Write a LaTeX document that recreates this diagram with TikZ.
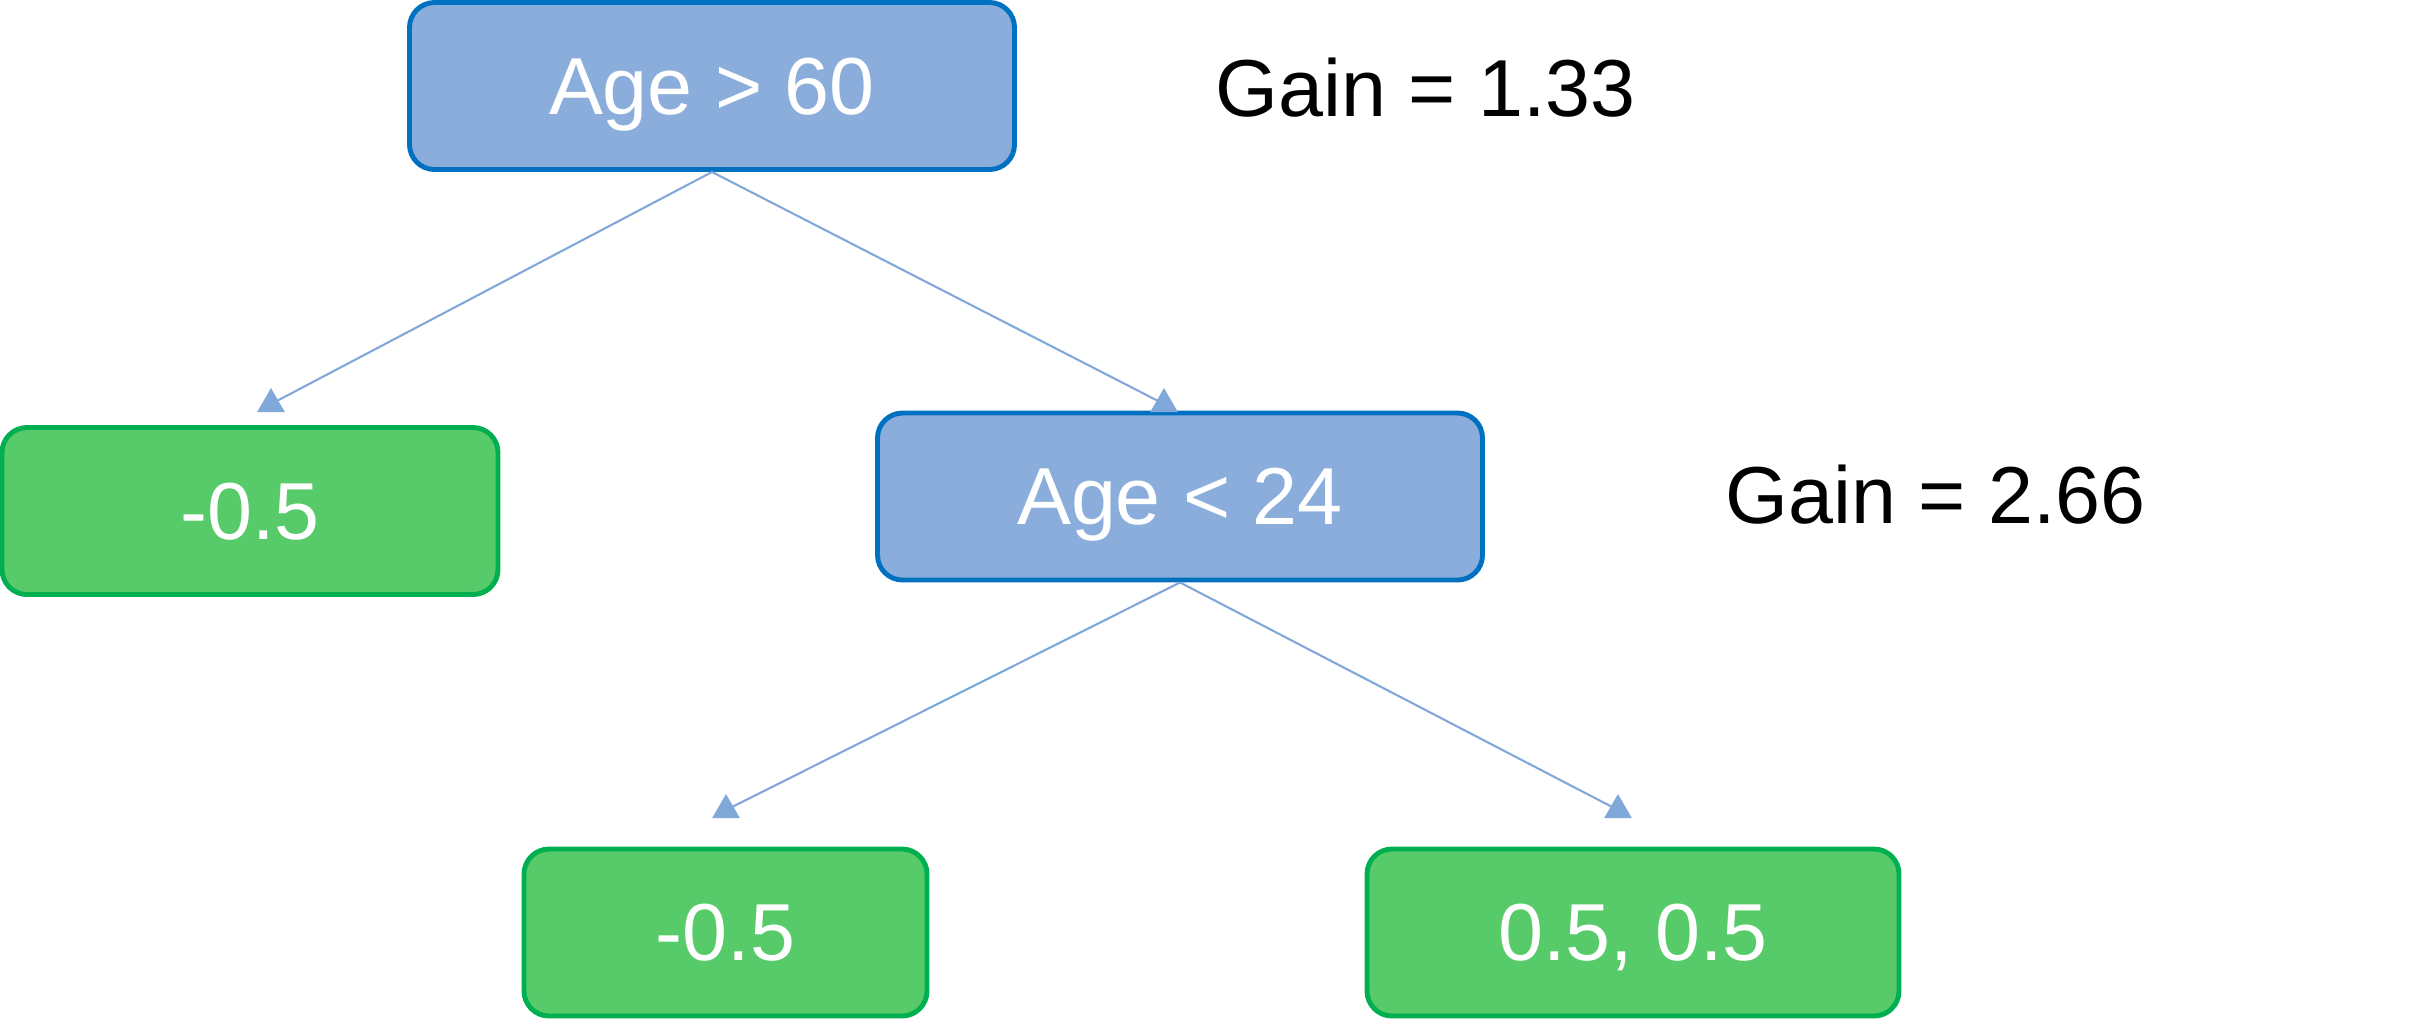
\documentclass[tikz,border=0pt]{standalone}
\usepackage{fontspec}
\setmainfont{Liberation Sans}
\usepackage{tikz}
\usetikzlibrary{shapes.geometric}
\definecolor{splitfill}{RGB}{138,173,219}
\definecolor{splitline}{RGB}{0,112,192}
\definecolor{leaffill}{RGB}{87,203,106}
\definecolor{leafline}{RGB}{0,176,80}
\definecolor{edgecol}{RGB}{128,168,216}
\tikzset{
    split/.style = {
        draw=splitline,
        fill=splitfill,
        shape=rectangle,
        rounded corners=0.25cm,
        minimum width=6.05cm,
        minimum height=1.67cm,
        line width=1.4pt,
        text=white,
        text depth=0pt,
        font=\fontsize{23}{27}\selectfont
    },
    leaf/.style = {
        draw=leafline,
        fill=leaffill,
        shape=rectangle,
        rounded corners=0.25cm,
        minimum height=1.67cm,
        line width=1.4pt,
        text=white,
        text depth=0pt,
        font=\fontsize{23}{27}\selectfont
    },
    gain/.style = {
        anchor=west,
        inner sep=0pt,
        font=\fontsize{23}{27}\selectfont
    },
    edge/.style = {
        draw=edgecol,
        line width=0.6pt
    },
    tip/.style = {
        shape=regular polygon,
        regular polygon sides=3,
        fill=edgecol,
        minimum size=0.32cm,
        inner sep=0pt
    },
}

\begin{document}
\begin{tikzpicture}
                \useasboundingbox (0,0) rectangle (24.11,-10.32);

                \node[split] (root) at (7.12,-0.86) {Age > 60};
                \node[split] (mid) at (11.80,-4.965) {Age < 24};
                \node[leaf, minimum width=4.96cm] (lefta) at (2.50,-5.11) {-0.5};
                \node[leaf, minimum width=4.03cm] (leftb) at (7.255,-9.325) {-0.5};
                \node[leaf, minimum width=5.32cm] (rightb) at (16.33,-9.325) {0.5, 0.5};
                \node[gain] (gaina) at (12.15,-0.88) {Gain = 1.33};
                \node[gain] (gainb) at (17.25,-4.95) {Gain = 2.66};

                \coordinate (ta) at (2.71,-4.04);
                \coordinate (tb) at (11.64,-4.04);
                \coordinate (tc) at (7.26,-8.10);
                \coordinate (td) at (16.18,-8.10);

                \path[edge] (root.south) -- (ta);
                \path[edge] (root.south) -- (tb);
                \path[edge] (mid.south) -- (tc);
                \path[edge] (mid.south) -- (td);

                \node[tip] at (ta) {};
                \node[tip] at (tb) {};
                \node[tip] at (tc) {};
                \node[tip] at (td) {};
            \end{tikzpicture}
\end{document}
